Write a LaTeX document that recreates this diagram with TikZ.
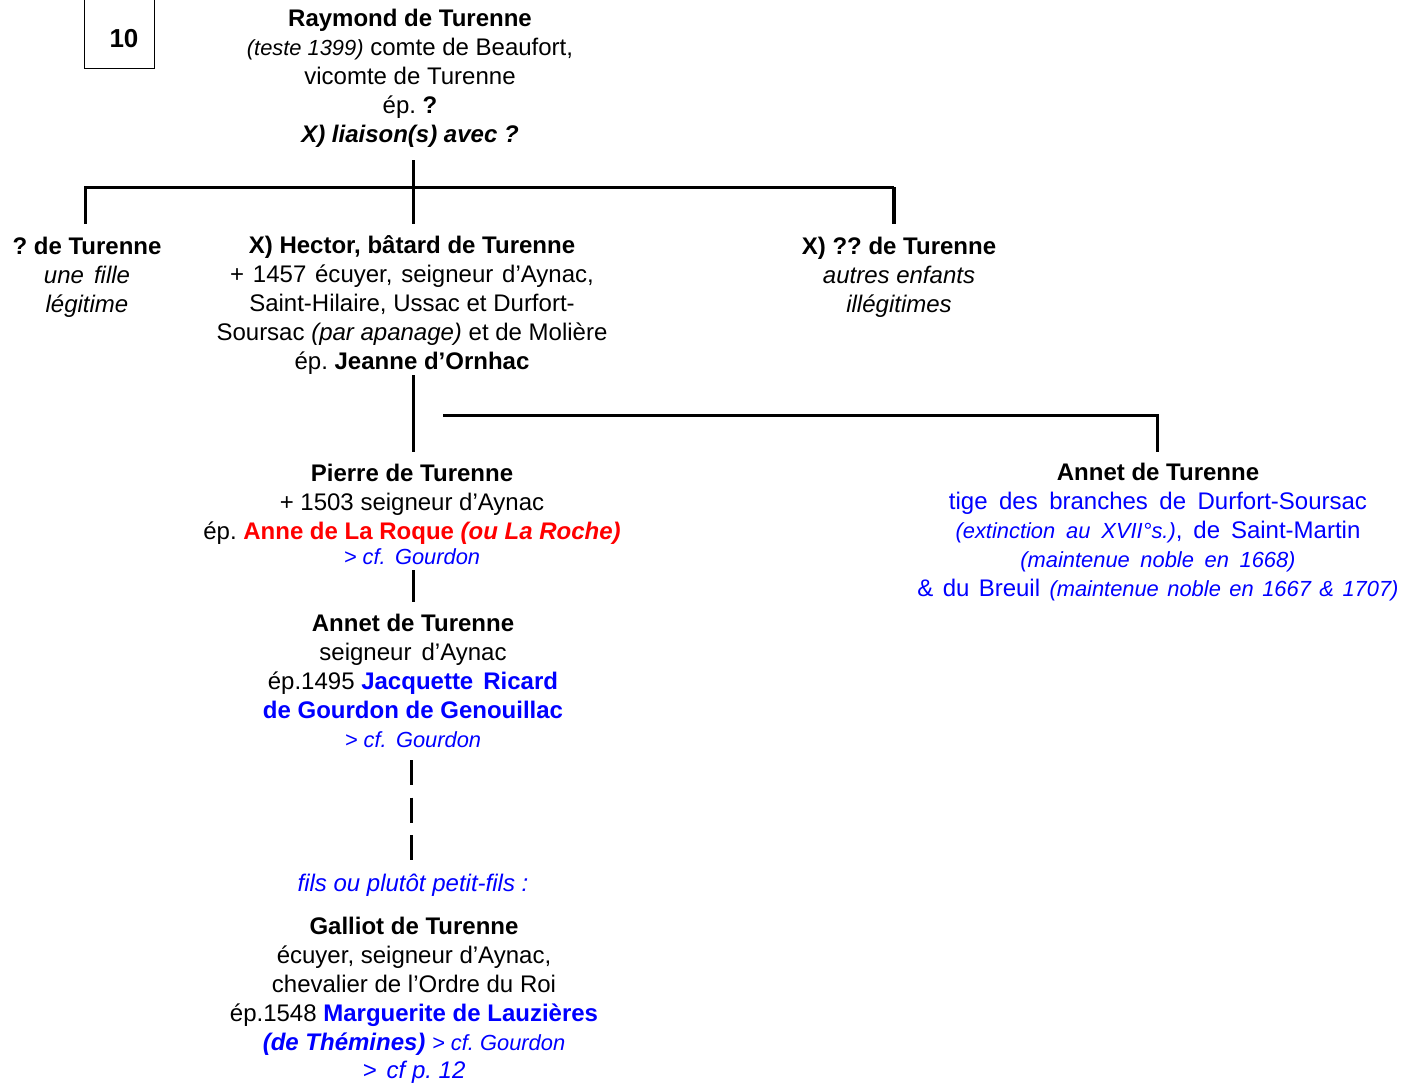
\documentclass[tikz,border=0pt]{standalone}
\usepackage{fontspec}
\setmainfont{Liberation Sans}
\definecolor{lblue}{RGB}{0,0,255}
\definecolor{lred}{RGB}{255,0,0}
\newcommand{\sm}{\fontsize{16.4}{21.75}\selectfont}
\newcommand{\wsp}{\hspace{0.42em}}
\tikzset{
  person/.style={align=center, anchor=base, inner sep=0pt, font=\fontsize{18}{21.75}\selectfont\frenchspacing},
  link/.style={line width=2.25pt},
}
\begin{document}
\begin{tikzpicture}[x={(0.75pt,0)}, y={(0,-0.75pt)}]
\useasboundingbox (0,0) rectangle (1412,1082);
\draw[line width=0.75pt] (84,-5) rectangle (154,68);
\node[person, font=\fontsize{19.5}{21.75}\selectfont\bfseries] (num) at (124,47) {10};

\node[person] (raymond) at (410,142) {\textbf{Raymond de Turenne}\\
{\sm\itshape (teste 1399)} comte de Beaufort,\\
vicomte de Turenne\\
ép. \textbf{?}\\
\textbf{\itshape X) liaison(s) avec ?}};

\node[person] (fille) at (87,312) {\textbf{? de Turenne}\\ \textit{une\wsp fille}\\ \textit{légitime}};
\node[person] (hector) at (412,369) {\textbf{X) Hector, bâtard de Turenne}\\
{\spaceskip=6.6pt + 1457 écuyer, seigneur d’Aynac,}\\
Saint-Hilaire, Ussac et Durfort-\\
Soursac \textit{(par apanage)} et de Molière\\
ép. \textbf{Jeanne d’Ornhac}};
\node[person] (autres) at (899,312) {\textbf{X) ?? de Turenne}\\ \textit{autres enfants}\\ \textit{illégitimes}};

\node[person] (pierre) at (412,564) {\textbf{Pierre de Turenne}\\
+ 1503 seigneur d’Aynac\\
ép. {\color{lred}\bfseries Anne de La Roque \textit{(ou La Roche)}}\\[-3pt]
{\sm\itshape\color{lblue} > cf.\wsp Gourdon}};

\node[person] (annetR) at (1158,596) {\textbf{Annet de Turenne}\\
\color{lblue}\spaceskip=8.6pt tige des branches de Durfort-Soursac\\
\color{lblue}\spaceskip=8.2pt{\sm\itshape (extinction au XVII°s.)}, de Saint-Martin\\
\color{lblue}{\sm\spaceskip=8pt\itshape (maintenue noble en 1668)}\\
\color{lblue}\spaceskip=7pt\& du Breuil {\sm\spaceskip=6.4pt\itshape (maintenue noble en 1667 \& 1707)}};

\node[person] (annet) at (413,747) {\textbf{Annet de Turenne}\\
seigneur\wsp d’Aynac\\
ép.1495 {\color{lblue}\bfseries Jacquette\wsp Ricard}\\
{\color{lblue}\bfseries de Gourdon de Genouillac}\\
{\sm\itshape\color{lblue} > cf.\wsp Gourdon}};

\node[person] (fils) at (413,891) {\color{lblue}\itshape fils ou plutôt petit-fils :};

\node[person] (galliot) at (414,1078) {\textbf{Galliot de Turenne}\\
écuyer, seigneur d’Aynac,\\
chevalier de l’Ordre du Roi\\
ép.1548 {\color{lblue}\bfseries Marguerite de Lauzières}\\
{\color{lblue}\bfseries\itshape (de Thémines)} {\sm\itshape\color{lblue} > cf. Gourdon}\\[-1pt]
{\color{lblue}\itshape >\wsp cf p. 12}};

% connectors
\coordinate (r-out) at (413,160);
\coordinate (r-bar) at (413,187);
\coordinate (bar-l) at (84,187);
\coordinate (bar-r) at (894,187);
\coordinate (fille-in) at (85,224);
\coordinate (hector-in) at (413,224);
\coordinate (autres-in) at (894,224);
\draw[link] (r-out) -- (r-bar);
\draw[link] (bar-l) -- (bar-r);
\draw[link] (85,187) -- (fille-in);
\draw[link] (r-bar) -- (hector-in);
\draw[line width=3.6pt] (bar-r) -- (autres-in);

\coordinate (hector-out) at (413,375);
\coordinate (pierre-in) at (413,452);
\coordinate (br-l) at (443,415);
\coordinate (br-r) at (1157,415);
\coordinate (annetR-in) at (1157,452);
\draw[link] (hector-out) -- (pierre-in);
\draw[link] (br-l) -- (br-r) -- (annetR-in);

\coordinate (pierre-out) at (413,570);
\coordinate (annet-in) at (413,602);
\draw[link] (pierre-out) -- (annet-in);

\coordinate (annet-out) at (411,760);
\coordinate (fils-in) at (411,862);
\draw[link, dash pattern=on 18.75pt off 9.4pt] (annet-out) -- (fils-in);
\end{tikzpicture}
\end{document}
